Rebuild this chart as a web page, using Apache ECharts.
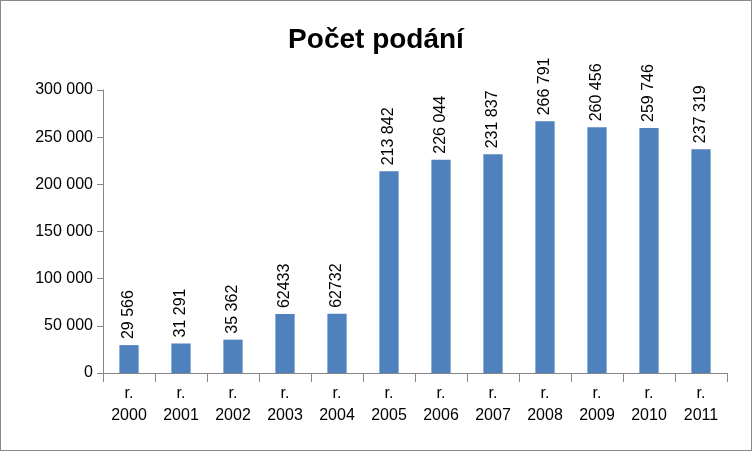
<!DOCTYPE html>
<html><head><meta charset="utf-8">
<script src="https://cdn.jsdelivr.net/npm/echarts@6/dist/echarts.min.js"></script>
<style>html,body{margin:0;padding:0;background:#fff}#c{width:752px;height:451px;box-sizing:border-box;border:1px solid #888}</style>
</head><body><div id="c"></div>
<script>
const categories = ['r.\n2000','r.\n2001','r.\n2002','r.\n2003','r.\n2004','r.\n2005','r.\n2006','r.\n2007','r.\n2008','r.\n2009','r.\n2010','r.\n2011'];
const values = [29566,31291,35362,62433,62732,213842,226044,231837,266791,260456,259746,237319];
const valueLabels = ['29 566','31 291','35 362','62433','62732','213 842','226 044','231 837','266 791','260 456','259 746','237 319'];
const yTicks = ['0','50 000','100 000','150 000','200 000','250 000','300 000'];
const chart = echarts.init(document.getElementById('c'));
const font = 'Liberation Sans, DejaVu Sans, sans-serif';
chart.setOption({
  animation:false,
  title:{text:'Počet podání',left:'center',top:20,textStyle:{fontFamily:font,fontSize:28,fontWeight:'bold',color:'#000'}},
  grid:{left:102,right:24,top:89,bottom:77},
  xAxis:{type:'category',data:categories,
    axisLine:{lineStyle:{color:'#868686'}},
    axisTick:{show:true,length:9,lineStyle:{color:'#868686'}},
    axisLabel:{fontFamily:font,fontSize:16,color:'#000',lineHeight:22,margin:10}},
  yAxis:{type:'value',min:0,max:300000,interval:50000,
    axisLine:{show:true,lineStyle:{color:'#868686'}},
    axisTick:{show:true,length:6,lineStyle:{color:'#868686'}},
    splitLine:{show:false},
    axisLabel:{fontFamily:font,fontSize:16,color:'#000',margin:10,formatter:(v)=>yTicks[v/50000]}},
  series:[{type:'bar',data:values,barWidth:'37%',itemStyle:{color:'#4F81BD'},
    label:{show:true,position:'top',rotate:90,align:'left',verticalAlign:'middle',distance:6,
      fontFamily:font,fontSize:16,color:'#000',formatter:(p)=>valueLabels[p.dataIndex]}}]
});
</script></body></html>
